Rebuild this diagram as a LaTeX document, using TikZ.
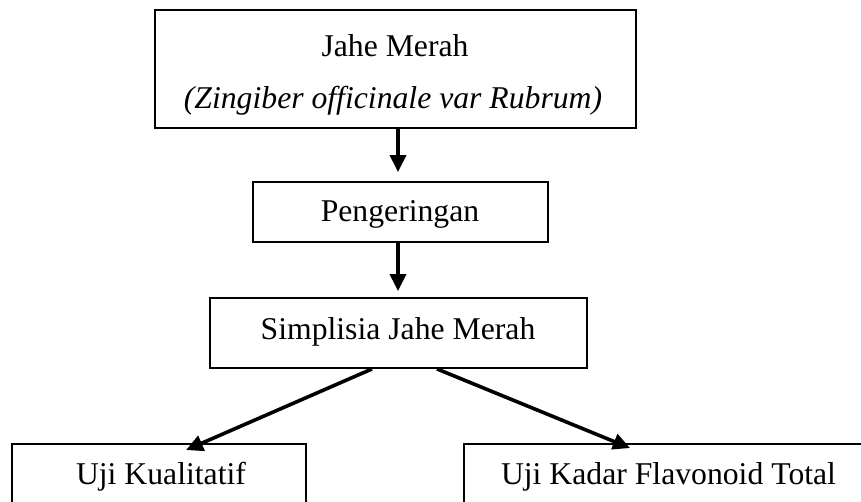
\documentclass[tikz,border=0pt]{standalone}
\usepackage{fontspec}
\setmainfont{Liberation Serif}
\usetikzlibrary{arrows.meta}
\begin{document}
\begin{tikzpicture}[x=1pt,y=-1pt,
  box/.style={draw=black,line width=1.9pt,rectangle,inner sep=0pt,fill=white},
  lbl/.style={inner sep=0pt,anchor=base,font=\fontsize{31.7pt}{38pt}\selectfont},
  arr/.style={line width=3.6pt,-{Triangle[length=17pt 0,width=16pt 0]}}]
\useasboundingbox (0,0) rectangle (861,502);
\clip (0,0) rectangle (861,502);
\fill[white] (0,0) rectangle (861,502);
% boxes
\node[box,minimum width=481pt,minimum height=118pt] (b1) at (395.5,69) {};
\node[box,minimum width=295pt,minimum height=60pt] (b2) at (400.5,212) {};
\node[box,minimum width=377pt,minimum height=70pt] (b3) at (398.5,333) {};
\node[box,minimum width=294pt,minimum height=80pt] (b4) at (159,484) {};
\node[box,minimum width=409pt,minimum height=80pt] (b5) at (668.5,484) {};
% labels
\node[lbl] (t1a) at (395,57) {Jahe Merah};
\node[lbl] (t1b) at (393,109) {\itshape (Zingiber officinale var Rubrum)};
\node[lbl] (t2) at (400,222) {Pengeringan};
\node[lbl] (t3) at (398,339) {Simplisia Jahe Merah};
\node[lbl] (t4) at (161,484) {Uji Kualitatif};
\node[lbl] (t5) at (668.5,484) {Uji Kadar Flavonoid Total};
% arrows
\draw[arr,shorten >=9pt] ([xshift=2.5pt]b1.south) -- ([xshift=2.5pt]b1.south |- b2.north);
\draw[arr,shorten >=6pt] ([xshift=-2.5pt]b2.south) -- ([xshift=-2.5pt]b2.south |- b3.north);
\draw[arr] ([xshift=-26.5pt]b3.south) -- ([xshift=27pt,yshift=-7pt]b4.north);
\draw[arr] ([xshift=38.5pt]b3.south) -- ([xshift=-38.5pt,yshift=-5pt]b5.north);
\end{tikzpicture}
\end{document}
